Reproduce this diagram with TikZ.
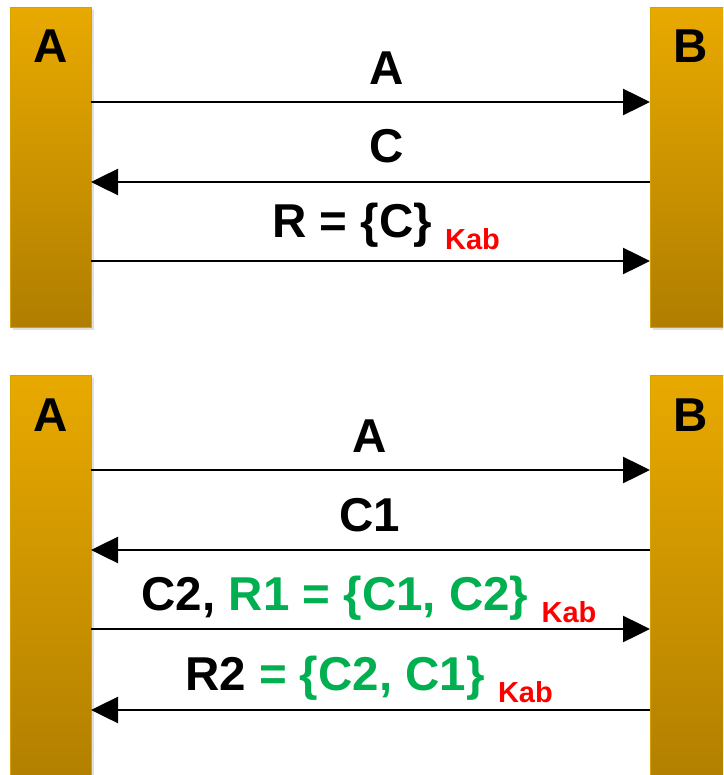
\documentclass[tikz,border=0pt]{standalone}
\usepackage{fontspec}
\setmainfont{Liberation Sans}
\usetikzlibrary{arrows.meta,shadows}
\definecolor{barTop}{HTML}{E8A900}
\definecolor{barBot}{HTML}{B07E00}
\definecolor{barEdge}{HTML}{D6A200}
\definecolor{keyGreen}{HTML}{00B050}
\newcommand{\kab}{{\color{red}\fontsize{29}{31}\selectfont\raisebox{-12pt}{Kab}}}
\tikzset{
	party/.style={draw=barEdge, line width=1.2pt, top color=barTop, bottom color=barBot,
		minimum width=81pt, anchor=north west, inner sep=0pt,
		drop shadow={shadow xshift=2pt, shadow yshift=-2pt, opacity=0.25}},
	msg/.style={line width=2.5pt, -{Triangle[length=27pt,width=26pt]}},
	lbl/.style={font=\fontsize{47.5}{50}\selectfont\bfseries, anchor=base, inner sep=0pt},
}
\begin{document}
\begin{tikzpicture}[x=1pt, y=-1pt]
	\useasboundingbox (0,0) rectangle (723,775);
	\clip (0,0) rectangle (723,775);
	\fill[white] (0,0) rectangle (723,775);

	% first exchange
	\node[party, minimum height=320pt] (barA) at (10,7) {};
	\node[party, minimum height=320pt] (barB) at (650,7) {};
	\node[lbl] (nameA) at (51,63) {A};
	\node[lbl] (nameB) at (691,63) {B};

	\coordinate (a1) at (91,102);  \coordinate (b1) at (650,102);
	\coordinate (a2) at (91,182);  \coordinate (b2) at (650,182);
	\coordinate (a3) at (91,261);  \coordinate (b3) at (650,261);

	\draw[msg] (a1) -- (b1);
	\draw[msg] (b2) -- (a2);
	\draw[msg] (a3) -- (b3);

	\node[lbl] (m1) at (387,85) {A};
	\node[lbl] (m2) at (387,163) {C};
	\node[lbl] (m3) at (386,238) {R = \{C\} \kab};

	% second exchange
	\node[party, minimum height=420pt] (barA2) at (10,375) {};
	\node[party, minimum height=420pt] (barB2) at (650,375) {};
	\node[lbl] (nameA2) at (51,431) {A};
	\node[lbl] (nameB2) at (691,431) {B};

	\coordinate (c1) at (91,470);  \coordinate (d1) at (650,470);
	\coordinate (c2) at (91,550);  \coordinate (d2) at (650,550);
	\coordinate (c3) at (91,629);  \coordinate (d3) at (650,629);
	\coordinate (c4) at (91,710);  \coordinate (d4) at (650,710);

	\draw[msg] (c1) -- (d1);
	\draw[msg] (d2) -- (c2);
	\draw[msg] (c3) -- (d3);
	\draw[msg] (d4) -- (c4);

	\node[lbl] (n1) at (370,452) {A};
	\node[lbl] (n2) at (370,531) {C1};
	\node[lbl] (n3) at (369,610) {C2, {\color{keyGreen}R1 = \{C1, C2\}} \kab};
	\node[lbl] (n4) at (369,690) {R2 {\color{keyGreen}= \{C2, C1\}} \kab};
\end{tikzpicture}
\end{document}
